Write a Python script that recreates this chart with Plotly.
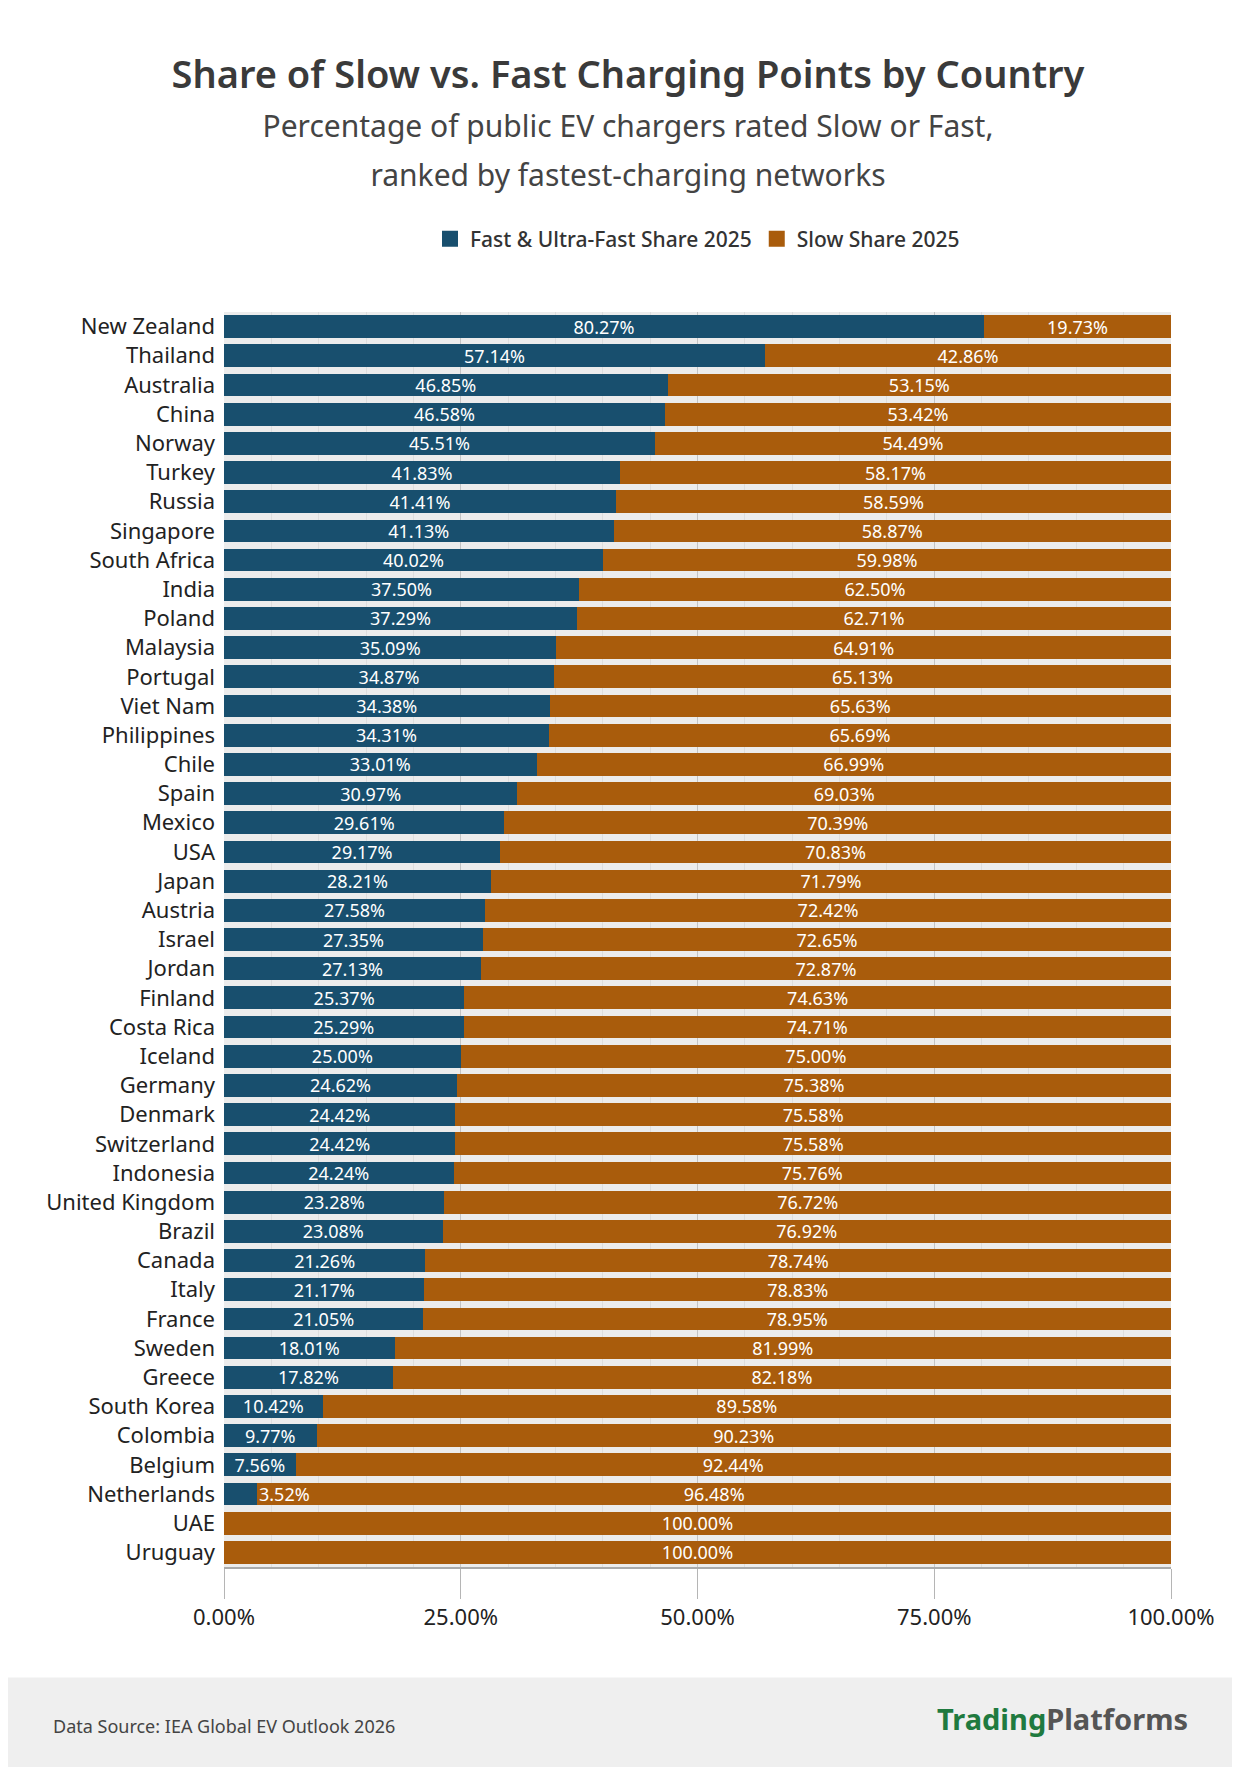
import plotly.graph_objects as go

countries = ["New Zealand","Thailand","Australia","China","Norway","Turkey","Russia","Singapore","South Africa","India","Poland","Malaysia","Portugal","Viet Nam","Philippines","Chile","Spain","Mexico","USA","Japan","Austria","Israel","Jordan","Finland","Costa Rica","Iceland","Germany","Denmark","Switzerland","Indonesia","United Kingdom","Brazil","Canada","Italy","France","Sweden","Greece","South Korea","Colombia","Belgium","Netherlands","UAE","Uruguay"]
fast = [80.27,57.14,46.85,46.58,45.51,41.83,41.41,41.13,40.02,37.50,37.29,35.09,34.87,34.38,34.31,33.01,30.97,29.61,29.17,28.21,27.58,27.35,27.13,25.37,25.29,25.00,24.62,24.42,24.42,24.24,23.28,23.08,21.26,21.17,21.05,18.01,17.82,10.42,9.77,7.56,3.52,0,0]
slow = [19.73,42.86,53.15,53.42,54.49,58.17,58.59,58.87,59.98,62.50,62.71,64.91,65.13,65.63,65.69,66.99,69.03,70.39,70.83,71.79,72.42,72.65,72.87,74.63,74.71,75.00,75.38,75.58,75.58,75.76,76.72,76.92,78.74,78.83,78.95,81.99,82.18,89.58,90.23,92.44,96.48,100.00,100.00]
series_names = ["Fast & Ultra-Fast Share 2025", "Slow Share 2025"]

BLUE = "#184f6e"
ORANGE = "#a95c0c"
FONT = "Noto Sans"

fast_text = [(f"{v:.2f}%" if v >= 5 else "") for v in fast]
slow_text = [f"{v:.2f}%" for v in slow]

fig = go.Figure()
for vals, txt, col, nm in [(fast, fast_text, BLUE, series_names[0]), (slow, slow_text, ORANGE, series_names[1])]:
    fig.add_trace(go.Bar(y=countries, x=vals, orientation="h", name=nm, showlegend=False,
                         marker=dict(color=col, line=dict(width=0)), text=txt, textposition="inside",
                         insidetextanchor="middle", constraintext="none",
                         textfont=dict(color="white", size=18, family=FONT), hoverinfo="skip"))
# legend proxies with larger square symbols
for col, nm in [(BLUE, series_names[0]), (ORANGE, series_names[1])]:
    fig.add_trace(go.Scatter(x=[None], y=[None], mode="markers", name=nm,
                             marker=dict(symbol="square", size=20, color=col)))

for c, v in zip(countries, fast):
    if 0 < v < 5:
        fig.add_annotation(x=v, y=c, text=f"{v:.2f}%", showarrow=False, xanchor="left", xshift=0,
                           font=dict(color="white", size=18, family=FONT))

# footer band
fig.add_shape(type="rect", xref="paper", yref="paper", x0=-0.5, x1=1.5, y0=-0.3, y1=-0.088,
              fillcolor="#efefef", line=dict(width=0), layer="below")
fig.add_annotation(xref="paper", yref="paper", x=-0.183, y=-0.138, xanchor="left", showarrow=False,
                   text="Data Source: IEA Global EV Outlook 2026", font=dict(size=18, color="#444", family=FONT))
fig.add_annotation(xref="paper", yref="paper", x=1.02, y=-0.138, xanchor="right", showarrow=False,
                   text="<b><span style='color:#1f7a3f'>Trading</span><span style='color:#555'>Platforms</span></b>",
                   font=dict(size=29, family=FONT))

fig.update_layout(
    width=1240, height=1767,
    paper_bgcolor="white", plot_bgcolor="#ececec",
    barmode="stack", bargap=0.22,
    margin=dict(l=216, r=77, t=304, b=208),
    font=dict(family=FONT, color="#222"),
    title=dict(text="Share of Slow vs. Fast Charging Points by Country<br>"
                    "<span style='font-size:30px;color:#444;font-weight:400'>Percentage of public EV chargers rated Slow or Fast,<br>ranked by fastest-charging networks</span>",
               x=0.5, xanchor="center", y=0.955, yanchor="top",
               font=dict(size=38, color="#3a3a3a", family=FONT, weight=600)),
    legend=dict(orientation="h", x=0.5, xanchor="center", y=1.058, yanchor="middle",
                font=dict(size=21, color="#333", weight=500), traceorder="normal"),
    showlegend=True,
)
fig.update_xaxes(range=[0, 100], tickvals=[0, 25, 50, 75, 100],
                 ticktext=["0.00%", "25.00%", "50.00%", "75.00%", "100.00%"],
                 showgrid=True, gridcolor="#c4c4c4", gridwidth=1,
                 minor=dict(dtick=5, showgrid=True, gridcolor="#dedede"),
                 ticks="outside", ticklen=30, tickcolor="#b5b5b5",
                 showline=True, linecolor="#aaaaaa", linewidth=2,
                 tickfont=dict(size=22, color="#222"), zeroline=False, fixedrange=True)
fig.update_yaxes(autorange="reversed", tickfont=dict(size=22, color="#222"), ticks="", ticklabelstandoff=8,
                 showline=False, fixedrange=True)

fig.write_html("out.html")
